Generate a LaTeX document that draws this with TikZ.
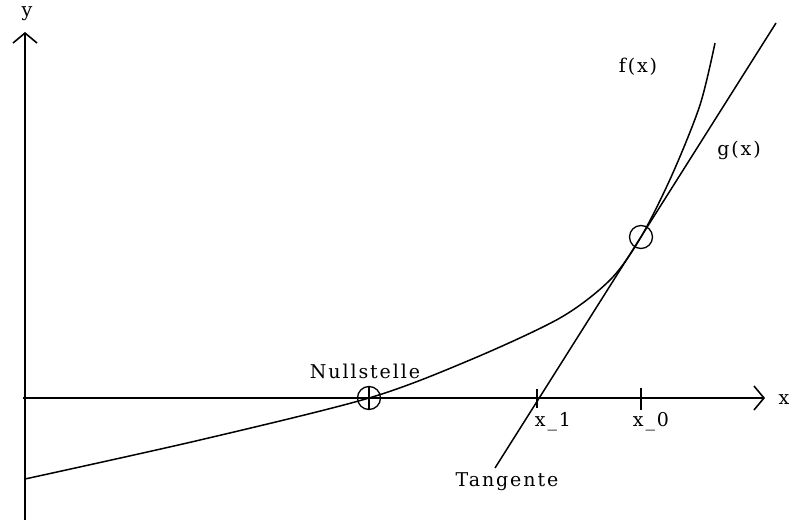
\documentclass[tikz,border=0pt]{standalone}
\usepackage{fontspec}
\setmainfont{DejaVu Serif}[LetterSpace=10]
\usetikzlibrary{arrows.meta}
\begin{document}
\begin{tikzpicture}[x=1pt,y=-1pt,
  axis/.style={line width=1.7pt,-{Straight Barb[length=10pt,width=24pt,line width=1.6pt]}},
  crv/.style={line width=1.5pt},
  tickline/.style={line width=1.5pt},
  lab/.style={font=\fontsize{19}{21}\selectfont,inner sep=0pt},
  ptmark/.style={circle,draw,line width=1.3pt,minimum size=23pt,inner sep=0pt}]
\useasboundingbox (0,0) rectangle (798,524);
% axes
\coordinate (ybot) at (25,520);
\coordinate (ytop) at (25,32);
\coordinate (xleft) at (23,398);
\coordinate (xright) at (765,398);
\draw[axis] (ybot) -- (ytop);
\draw[axis] (xleft) -- (xright);
\node[lab] (ylab) at (27,14) {y};
\node[lab] (xlab) at (784,400) {x};
% function
\draw[crv] plot[smooth,tension=0.5] coordinates {(25,479) (200,440) (369,398) (470,360) (560,318) (610,280) (641,237) (672,175) (700,105) (715,43)};
% tangent
\coordinate (tb) at (495,468);
\coordinate (tt) at (776,23);
\draw[crv] (tb) -- (tt);
% ticks
\coordinate (t1a) at (537,389); \coordinate (t1b) at (537,408);
\coordinate (t0a) at (641,388); \coordinate (t0b) at (641,410);
\draw[tickline] (t1a) -- (t1b);
\draw[tickline] (t0a) -- (t0b);
% marks
\node[ptmark] (null) at (369,398) {};
\draw[line width=1.3pt] (null.north) -- (null.south) (null.west) -- (null.east);
\node[ptmark] (x0pt) at (641,237) {};
% labels
\node[lab] (fl) at (638,67) {f(x)};
\node[lab] (gl) at (739,150) {g(x)};
\node[lab] (nl) at (365,371) {Nullstelle};
\node[lab] (tl) at (507,482) {Tangente};
\node[lab] (x1l) at (553,422) {x\_1};
\node[lab] (x0l) at (651,422) {x\_0};
\end{tikzpicture}
\end{document}
